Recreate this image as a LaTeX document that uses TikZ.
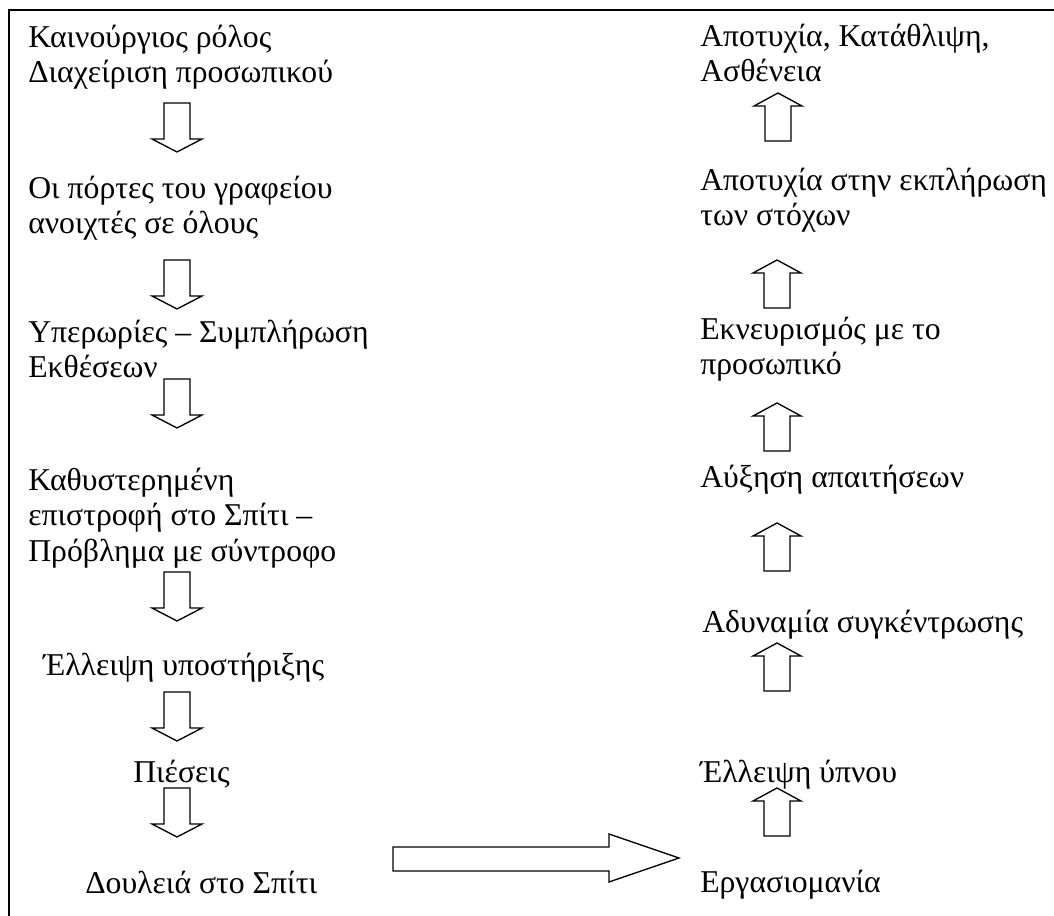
\documentclass[tikz,border=0pt]{standalone}
\usepackage{fontspec}
\setmainfont{Liberation Serif}
\begin{document}
\begin{tikzpicture}[x=0.75pt,y=-0.75pt,
  txt/.style={anchor=base west,inner sep=0pt,align=left,font=\fontsize{23.8}{26.4}\selectfont},
  arrowline/.style={draw=black,line width=1pt,line join=miter,fill=white},
  frameline/.style={draw=black,line width=1.6pt},
  downblock/.pic={\path[arrowline] (-13,0) -- (-13,36) -- (-25,36) -- (0,49) -- (25,36) -- (13,36) -- (13,0) -- cycle;},
  upblock/.pic={\path[arrowline] (0,0) -- (24,13) -- (13,13) -- (13,48) -- (-13,48) -- (-13,13) -- (-24,13) -- cycle;}]
\useasboundingbox (0,0) rectangle (1054,916);
\draw[frameline] (9,916) -- (9,10) -- (1054,10);
% left column (anchor = baseline of last line)
\node[txt] (l1) at (28,83) {Καινούργιος ρόλος\\Διαχείριση προσωπικού};
\node[txt] (l2) at (28,234) {Οι πόρτες του γραφείου\\ανοιχτές σε όλους};
\node[txt] (l3) at (28,378) {Υπερωρίες – Συμπλήρωση\\Εκθέσεων};
\node[txt] (l4) at (28,561) {Καθυστερημένη\\επιστροφή στο Σπίτι –\\Πρόβλημα με σύντροφο};
\node[txt] (l5) at (43,675) {Έλλειψη υποστήριξης};
\node[txt] (l6) at (133,782) {Πιέσεις};
\node[txt] (l7) at (85,893) {Δουλειά στο Σπίτι};
% right column
\node[txt] (r1) at (700,82) {Αποτυχία, Κατάθλιψη,\\Ασθένεια};
\node[txt] (r2) at (700,226) {Αποτυχία στην εκπλήρωση\\των στόχων};
\node[txt] (r3) at (700,375) {Εκνευρισμός με το\\προσωπικό};
\node[txt] (r4) at (700,487) {Αύξηση απαιτήσεων};
\node[txt] (r5) at (702,632) {Αδυναμία συγκέντρωσης};
\node[txt] (r6) at (700,782) {Έλλειψη ύπνου};
\node[txt] (r7) at (700,892) {Εργασιομανία};
% down block arrows
\pic at (177,103) {downblock};
\pic at (177,260) {downblock};
\pic at (177,379) {downblock};
\pic at (177,572) {downblock};
\pic at (177,692) {downblock};
\pic at (177,788) {downblock};
% up block arrows
\pic at (778,93) {upblock};
\pic at (777,260) {upblock};
\pic at (777,403) {upblock};
\pic at (777,523) {upblock};
\pic at (777,643) {upblock};
\pic at (777,788) {upblock};
% right block arrow
\path[arrowline] (393,847) -- (609,847) -- (609,834) -- (679,858) -- (609,882) -- (609,871) -- (393,871) -- cycle;
\end{tikzpicture}
\end{document}
